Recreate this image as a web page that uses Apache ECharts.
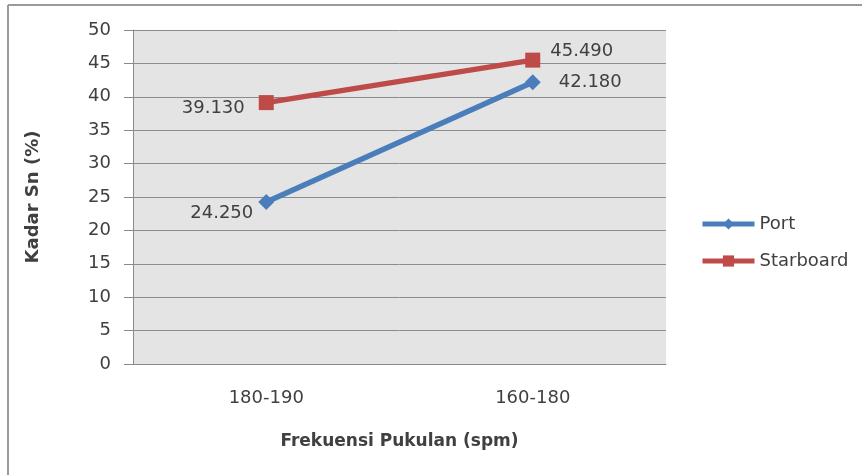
<!DOCTYPE html>
<html>
<head>
<meta charset="utf-8">
<script src="https://cdn.jsdelivr.net/npm/echarts@6/dist/echarts.min.js"></script>
<style>
html,body{margin:0;padding:0;background:#fff;}
#c{width:863px;height:475px;}
</style>
</head>
<body>
<div id="c"></div>
<script>
var categories = ['180-190', '160-180'];
var portValues = [24.25, 42.18];
var starboardValues = [39.13, 45.49];
var seriesNames = ['Port', 'Starboard'];

var FONT = 'DejaVu Sans';
var TXT = '#404040';

var portLabelCfg = [
  {position: 'left', distance: 5, offset: [0, 11]},
  {position: 'right', distance: 18, offset: [0, 0]}
];
var starLabelCfg = [
  {position: 'left', distance: 14, offset: [0, 6]},
  {position: 'right', distance: 10, offset: [0, -9]}
];

function build(values, cfg) {
  return values.map(function (v, i) {
    return {value: v, label: cfg[i]};
  });
}

var chart = echarts.init(document.getElementById('c'));
chart.setOption({
  animation: false,
  backgroundColor: '#fff',
  textStyle: {fontFamily: FONT},
  graphic: [
    {type: 'line', shape: {x1: 8, y1: 5, x2: 862, y2: 5}, style: {stroke: '#9a9a9a', lineWidth: 2}},
    {type: 'line', shape: {x1: 8, y1: 5, x2: 8, y2: 475}, style: {stroke: '#9a9a9a', lineWidth: 2}}
  ],
  grid: {
    left: 133, right: 197, top: 30, bottom: 111,
    show: true, backgroundColor: '#e4e4e4', borderWidth: 0
  },
  legend: {
    orient: 'vertical',
    left: 695, top: 210,
    itemWidth: 52, itemHeight: 14, itemGap: 19,
    lineStyle: {width: 5},
    textStyle: {fontFamily: FONT, fontSize: 18, color: TXT},
    data: seriesNames
  },
  xAxis: {
    type: 'category',
    data: categories,
    boundaryGap: true,
    axisLine: {show: true, lineStyle: {color: '#8a8a8a', width: 1}},
    axisTick: {show: false},
    axisLabel: {fontFamily: FONT, fontSize: 18, color: TXT, margin: 25},
    name: 'Frekuensi Pukulan (spm)',
    nameLocation: 'middle',
    nameGap: 69,
    nameTextStyle: {fontFamily: FONT, fontSize: 17, fontWeight: 'bold', color: TXT}
  },
  yAxis: {
    type: 'value',
    min: 0, max: 50, interval: 5,
    axisLine: {show: true, lineStyle: {color: '#8a8a8a', width: 1}},
    axisTick: {show: true, inside: false, length: 9, lineStyle: {color: '#8a8a8a'}},
    splitLine: {show: true, lineStyle: {color: '#8c8c8c', width: 1}},
    axisLabel: {fontFamily: FONT, fontSize: 18, color: TXT, margin: 22},
    name: 'Kadar Sn (%)',
    nameLocation: 'middle',
    nameGap: 91,
    nameRotate: 90,
    nameTextStyle: {fontFamily: FONT, fontSize: 18, fontWeight: 'bold', color: TXT}
  },
  series: [
    {
      name: seriesNames[0],
      type: 'line',
      data: build(portValues, portLabelCfg),
      symbol: 'diamond', symbolSize: 16,
      lineStyle: {color: '#4a7ebb', width: 5.5},
      itemStyle: {color: '#4a7ebb'},
      label: {show: true, fontFamily: FONT, fontSize: 18, color: TXT,
        formatter: function (p) { return p.value.toFixed(3); }}
    },
    {
      name: seriesNames[1],
      type: 'line',
      data: build(starboardValues, starLabelCfg),
      symbol: 'rect', symbolSize: 15,
      lineStyle: {color: '#be4b48', width: 5.5},
      itemStyle: {color: '#be4b48'},
      label: {show: true, fontFamily: FONT, fontSize: 18, color: TXT,
        formatter: function (p) { return p.value.toFixed(3); }}
    }
  ]
});
</script>
</body>
</html>
